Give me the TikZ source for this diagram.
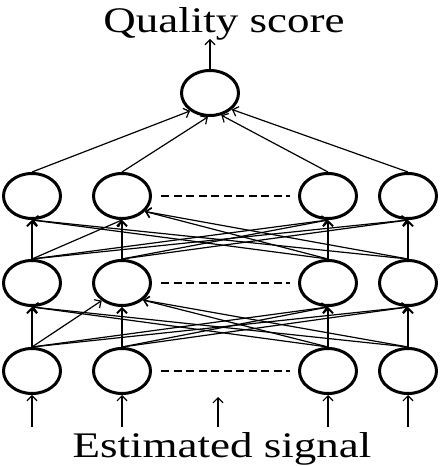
\documentclass[tikz,border=0pt]{standalone}
\usepackage{fontspec}
\newfontfamily\labelfont[FakeStretch=1.25]{Liberation Serif}
\usetikzlibrary{positioning, arrows.meta, shapes.geometric}

\begin{document}
\begin{tikzpicture}[
      x=1pt, y=1pt,
      neuron/.style={draw, ellipse, line width=3pt, minimum width=57pt, minimum height=45pt, inner sep=0pt},
      caption/.style={font=\labelfont\fontsize{36}{40}\selectfont, inner sep=0pt, anchor=base},
      arr/.style={-{Straight Barb[length=5pt, width=10pt]}, line width=1.2pt},
      vert/.style={arr, line width=1.8pt},
      gap/.style={dash pattern=on 8pt off 4.5pt, line width=1.8pt, shorten <=9pt, shorten >=8pt}
    ]
    \useasboundingbox (0,0) rectangle (440,466);

    % input layer
    \node[neuron] (r3c1) at (32,95) {};
    \node[neuron, right=30pt of r3c1] (r3c2) {};
    \node[neuron, right=146pt of r3c2] (r3c3) {};
    \node[neuron, right=20pt of r3c3] (r3c4) {};

    % hidden layers
    \node[neuron, above=40pt of r3c1] (r2c1) {};
    \node[neuron, above=40pt of r3c2] (r2c2) {};
    \node[neuron, above=40pt of r3c3] (r2c3) {};
    \node[neuron, above=40pt of r3c4] (r2c4) {};
    \node[neuron, above=39pt of r2c1] (r1c1) {};
    \node[neuron, above=39pt of r2c2] (r1c2) {};
    \node[neuron, above=39pt of r2c3] (r1c3) {};
    \node[neuron, above=39pt of r2c4] (r1c4) {};

    % output
    \node[neuron] (outn) at (210,373) {};

    \draw[gap] (r3c2) -- (r3c3);
    \draw[gap] (r2c2) -- (r2c3);
    \draw[gap] (r1c2) -- (r1c3);

    \coordinate[below=32pt of r3c1.south] (in1);
    \coordinate[below=32pt of r3c2.south] (in2);
    \coordinate[below=32pt of r3c3.south] (in3);
    \coordinate[below=32pt of r3c4.south] (in4);
    \coordinate (inm) at (218,39);
    \coordinate (inmtip) at (218,69);
    \coordinate[above=30pt of outn.north] (scoretip);

    \draw[arr] (in1) -- (r3c1.south);
    \draw[arr] (in2) -- (r3c2.south);
    \draw[arr] (inm) -- (inmtip);
    \draw[arr] (in3) -- (r3c3.south);
    \draw[arr] (in4) -- (r3c4.south);

    \draw[vert] (r3c1.north) -- (r2c1.south);
    \draw[arr] (r3c1.north) -- (r2c2.221);
    \draw[arr] (r3c1.north) -- (r2c3.south);
    \draw[arr] (r3c1.north) -- (r2c4.south);
    \draw[vert] (r3c2.north) -- (r2c2.south);
    \draw[arr] (r3c2.north) -- (r2c3.south);
    \draw[arr] (r3c2.north) -- (r2c4.south);
    \draw[vert] (r3c3.north) -- (r2c3.south);
    \draw[arr] (r3c3.north) -- (r2c1.south);
    \draw[arr] (r3c3.north) -- (r2c2.-39);
    \draw[vert] (r3c4.north) -- (r2c4.south);
    \draw[arr] (r3c4.north) -- (r2c1.south);
    \draw[arr] (r3c4.north) -- (r2c2.-39);

    \draw[vert] (r2c1.north) -- (r1c1.south);
    \draw[arr] (r2c1.north) -- (r1c2.south);
    \draw[arr] (r2c1.north) -- (r1c3.south);
    \draw[arr] (r2c1.north) -- (r1c4.south);
    \draw[vert] (r2c2.north) -- (r1c2.south);
    \draw[arr] (r2c2.north) -- (r1c3.south);
    \draw[arr] (r2c2.north) -- (r1c4.south);
    \draw[vert] (r2c3.north) -- (r1c3.south);
    \draw[arr] (r2c3.north) -- (r1c1.south);
    \draw[arr] (r2c3.north) -- (r1c2.-34);
    \draw[vert] (r2c4.north) -- (r1c4.south);
    \draw[arr] (r2c4.north) -- (r1c1.south);
    \draw[arr] (r2c4.north) -- (r1c2.-34);

    \draw[arr] (r1c1.north) -- (outn.222);
    \draw[arr] (r1c2.north) -- (outn.265);
    \draw[arr] (r1c3.north) -- (outn.297);
    \draw[arr] (r1c4.north) -- (outn.323);
    \draw[arr] (outn.north) -- (scoretip);

    \node[caption] (scoretxt) at (224,433) {Quality score};
    \node[caption] (signaltxt) at (222,9) {Estimated signal};
  \end{tikzpicture}
\end{document}
